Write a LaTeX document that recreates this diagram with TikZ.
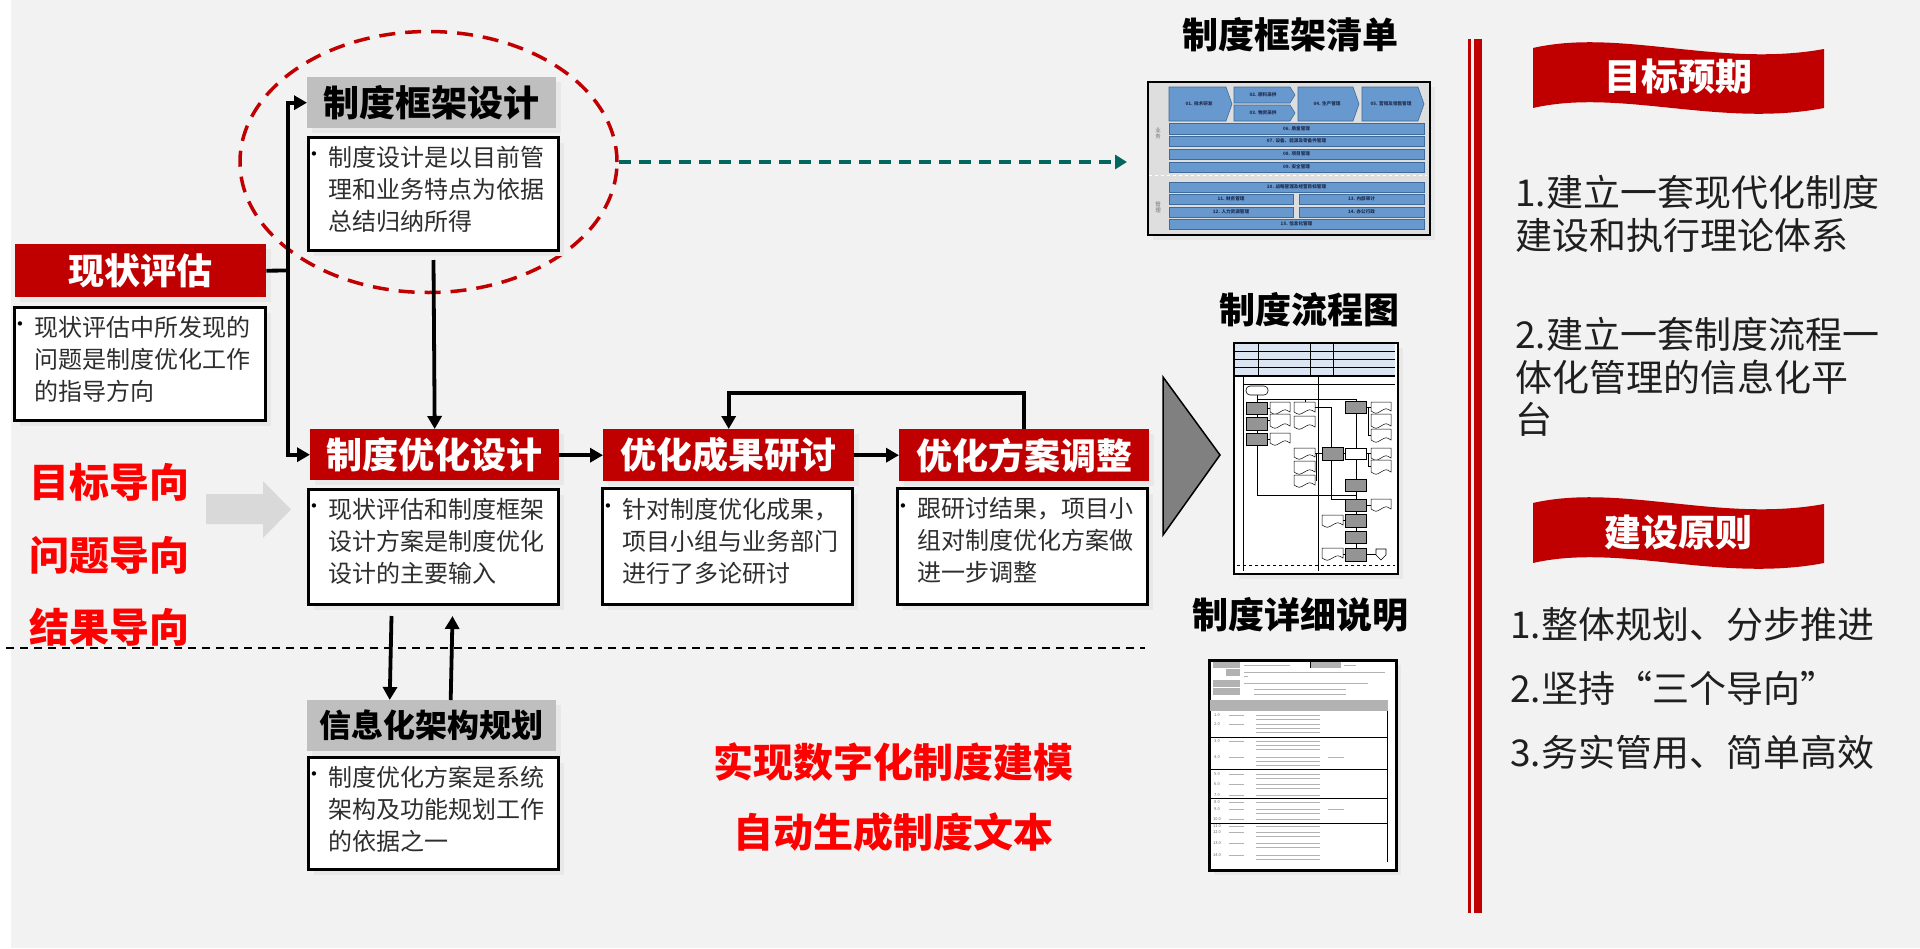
\documentclass[tikz,border=0pt]{standalone}
\usepackage{fontspec}
\setmainfont{Noto Sans CJK SC}
\newfontfamily\bulfont{DejaVu Sans}
\usetikzlibrary{arrows.meta,shapes.geometric,shadows}
\definecolor{hdred}{HTML}{C00000}
\definecolor{brred}{HTML}{FF0000}
\definecolor{bgc}{HTML}{F2F2F2}
\definecolor{hdgray}{HTML}{BFBFBF}
\definecolor{tealc}{HTML}{00665E}
\definecolor{bluebox}{HTML}{6798CE}
\definecolor{blueedge}{HTML}{3E6A9C}
\definecolor{navyc}{HTML}{1F2F50}
\definecolor{hdrblue}{HTML}{DCE6F2}
\definecolor{arrowgray}{HTML}{D9D9D9}
\definecolor{trigray}{HTML}{808080}
\newcommand{\fcdoc}[4]{\filldraw[fill=white,draw=black,line width=0.5pt] (#1,#2) -- (#3,#2) -- (#3,#4) .. controls +(-5,-3) and +(5,-3) .. ({(#1+#3)/2},#4) .. controls +(-5,3) and +(5,3) .. (#1,#4) -- cycle;}
\newcommand{\fcbox}[4]{\filldraw[fill=black!42,draw=black,line width=0.6pt] (#1,#2) rectangle (#3,#4);}
\tikzset{
 shad/.style={drop shadow={shadow xshift=5pt,shadow yshift=-5pt,fill=black!9,opacity=1}},
 redhead/.style={shad, fill=hdred, text=white, font=\bfseries\fontsize{36}{36}\selectfont, inner sep=0pt, anchor=north west},
 grayhead/.style={shad, fill=hdgray, text=black, font=\bfseries\fontsize{36}{36}\selectfont, inner sep=0pt, anchor=north west},
 descbox/.style={shad, draw=black, line width=3pt, fill=white, inner sep=0pt, anchor=north west},
 desctext/.style={font=\fontsize{24}{32}\selectfont, text=black!82, align=left, inner sep=0pt, anchor=north west},
 bul/.style={font=\bulfont\fontsize{15}{15}\selectfont, text=black, inner sep=0pt},
 conn/.style={draw=black, line width=3.8pt},
 arr/.style={-{Triangle[length=13pt,width=14pt]}},
 lefttext/.style={font=\bfseries\fontsize{40}{40}\selectfont, text=brred, inner sep=0pt},
 midred/.style={font=\bfseries\fontsize{40}{40}\selectfont, text=brred, inner sep=0pt},
 title/.style={font=\bfseries\fontsize{36}{36}\selectfont, text=black, inner sep=0pt},
 bantext/.style={font=\bfseries\fontsize{37}{37}\selectfont, text=white, inner sep=0pt},
 righttext/.style={font=\fontsize{37}{42.5}\selectfont, text=black!88, align=left, inner sep=0pt, anchor=north west},
 blueb/.style={fill=bluebox, draw=blueedge, line width=0.6pt},
 tinylab/.style={font=\bfseries\fontsize{4.6}{5}\selectfont, text=navyc, inner sep=0pt},
 sidelab/.style={font=\fontsize{5.5}{6}\selectfont, text=black!55, align=center, inner sep=0pt},
 thin/.style={draw=black, line width=0.6pt},
 bar/.style={draw=black!30, line width=1pt},
 docnum/.style={font=\fontsize{4}{4}\selectfont, text=black!60, inner sep=0pt},
}
\begin{document}
\begin{tikzpicture}[x=1pt,y=-1pt]
\useasboundingbox (0,0) rectangle (1920,948);
\fill[white] (0,0) rectangle (1920,948);
\fill[bgc] (11,0) rectangle (1920,948);

% dashed ellipse
\node[draw=hdred, line width=3.5pt, dash pattern=on 16pt off 10pt, ellipse, minimum width=377pt, minimum height=261pt, inner sep=0pt] (ell) at (428.5,162) {};

% boxes
\node[grayhead, minimum width=249pt, minimum height=51pt] (kj) at (307,77) {制度框架设计};
\node[descbox, minimum width=250pt, minimum height=113pt] (kjd) at (307,136) {};
\node[bul] (kjb) at (314,156) {•};
\node[desctext] (kjt) at (328.5,145.6) {制度设计是以目前管\\理和业务特点为依据\\总结归纳所得};

\node[redhead, minimum width=251pt, minimum height=53pt] (xz) at (15,244) {现状评估};
\node[descbox, minimum width=251pt, minimum height=113pt] (xzd) at (13,306) {};
\node[bul] (xzb) at (20,326) {•};
\node[desctext] (xzt) at (34.5,315.6) {现状评估中所发现的\\问题是制度优化工作\\的指导方向};

\node[redhead, minimum width=249pt, minimum height=51pt] (yh) at (310,429) {制度优化设计};
\node[descbox, minimum width=250pt, minimum height=115pt] (yhd) at (307,488) {};
\node[bul] (yhb) at (314,508) {•};
\node[desctext] (yht) at (328.5,497.6) {现状评估和制度框架\\设计方案是制度优化\\设计的主要输入};

\node[redhead, minimum width=251pt, minimum height=52pt] (cg) at (603,429) {优化成果研讨};
\node[descbox, minimum width=250pt, minimum height=116pt] (cgd) at (601,487) {};
\node[bul] (cgb) at (608,508) {•};
\node[desctext] (cgt) at (622.5,497.6) {针对制度优化成果，\\项目小组与业务部门\\进行了多论研讨};

\node[redhead, minimum width=250pt, minimum height=52pt] (fa) at (899,429) {优化方案调整};
\node[descbox, minimum width=250pt, minimum height=116pt] (fad) at (896,487) {};
\node[bul] (fab) at (903,508) {•};
\node[desctext] (fat) at (917.5,497.6) {跟研讨结果，项目小\\组对制度优化方案做\\进一步调整};

\node[grayhead, font=\bfseries\fontsize{32}{32}\selectfont, minimum width=249pt, minimum height=51pt] (xx) at (307,700) {信息化架构规划};
\node[descbox, minimum width=250pt, minimum height=112pt] (xxd) at (307,756) {};
\node[bul] (xxb) at (314,776) {•};
\node[desctext] (xxt) at (328.5,765.6) {制度优化方案是系统\\架构及功能规划工作\\的依据之一};

% left orientation texts and arrow
\node[lefttext] (g1) at (109.5,482) {目标导向};
\node[lefttext] (g2) at (109.5,555.5) {问题导向};
\node[lefttext] (g3) at (109.5,627) {结果导向};
\fill[arrowgray] (206,494) -- (263,494) -- (263,481) -- (291,509.5) -- (263,538) -- (263,524) -- (206,524) -- cycle;

% horizontal dashed separator
\draw[black, line width=1.6pt, dash pattern=on 8pt off 6pt] (6,648) -- (1145,648);

% center red texts
\node[midred] (m1) at (893,762) {实现数字化制度建模};
\node[midred] (m2) at (893,832) {自动生成制度文本};

% connectors
\coordinate (j) at (288,270.5);
\draw[conn] (xz.east) -- (j);
\draw[conn,arr] (j) |- (kj.west);
\draw[conn,arr] (j) |- (yh.west);
\draw[conn,arr] ([yshift=-8pt]kjd.south) -- (yh.north);
\draw[conn,arr] (yh.east |- cg.west) -- (cg.west);
\draw[conn,arr] (cg.east) -- (fa.west);
\draw[conn,arr] (fa.north) -- ++(0,-36) -| (cg.north);
\draw[conn,arr] ([xshift=-42pt,yshift=-10pt]yhd.south) -- ([xshift=-42pt]xx.north);
\draw[conn,arr] ([xshift=19pt]xx.north) -- ([xshift=19pt,yshift=-10pt]yhd.south);

% titles right-middle
\node[title] (t1) at (1290,35) {制度框架清单};
\node[title] (t2) at (1309,310) {制度流程图};
\node[title] (t3) at (1300,615) {制度详细说明};

% ---- framework list thumbnail
\node[shad, draw=black, line width=2pt, fill=black!13, minimum width=282pt, minimum height=153pt, inner sep=0pt, anchor=north west] (kjqd) at (1147,81) {};
\draw[tealc, line width=4pt, dash pattern=on 12pt off 8pt, -{Triangle[length=12pt,width=14pt]}] (ell.east) -- ([xshift=-20pt]ell.east -| kjqd.west);
\filldraw[blueb] (1169,87) -- (1226,87) -- (1232,104) -- (1226,121) -- (1169,121) -- cycle;
\node[tinylab] (l01) at (1199,104) {01. 技术研发};
\filldraw[blueb] (1234,87) -- (1290,87) -- (1295,95) -- (1290,103) -- (1234,103) -- cycle;
\node[tinylab] (l02) at (1263,95) {02. 原料采供};
\filldraw[blueb] (1234,105) -- (1290,105) -- (1295,113) -- (1290,121) -- (1234,121) -- cycle;
\node[tinylab] (l03) at (1263,113) {03. 物资采供};
\filldraw[blueb] (1298,87) -- (1353,87) -- (1359,104) -- (1353,121) -- (1298,121) -- cycle;
\node[tinylab] (l04) at (1327,104) {04. 生产管理};
\filldraw[blueb] (1362,87) -- (1418,87) -- (1424,104) -- (1418,121) -- (1362,121) -- cycle;
\node[tinylab] (l05) at (1391,104) {05. 营销及销售管理};
\filldraw[blueb] (1169,123) rectangle (1424,134);
\node[tinylab] (l06) at (1296.5,128.5) {06. 质量管理};
\filldraw[blueb] (1169,136) rectangle (1424,146);
\node[tinylab] (l07) at (1296.5,141) {07. 设备、能源及零备件管理};
\filldraw[blueb] (1169,149) rectangle (1424,159);
\node[tinylab] (l08) at (1296.5,154) {08. 项目管理};
\filldraw[blueb] (1169,162) rectangle (1424,172);
\node[tinylab] (l09) at (1296.5,167) {09. 安全管理};
\draw[white, dashed, line width=0.7pt] (1149,175.5) -- (1427,175.5);
\filldraw[blueb] (1169,182) rectangle (1424,192);
\node[tinylab] (l10) at (1296.5,187) {10. 战略管理及经营目标管理};
\filldraw[blueb] (1169,194) rectangle (1293,204);
\node[tinylab] (l11) at (1231,199) {11. 财务管理};
\filldraw[blueb] (1299,194) rectangle (1424,204);
\node[tinylab] (l13) at (1361.5,199) {13. 内部审计};
\filldraw[blueb] (1169,207) rectangle (1293,217);
\node[tinylab] (l12) at (1231,212) {12. 人力资源管理};
\filldraw[blueb] (1299,207) rectangle (1424,217);
\node[tinylab] (l14) at (1361.5,212) {14. 办公行政};
\filldraw[blueb] (1169,219) rectangle (1424,229);
\node[tinylab] (l15) at (1296.5,224) {15. 信息化管理};
\node[sidelab] (lyw) at (1158,133) {业\\务};
\node[sidelab] (lgl) at (1158,207) {管\\理};

% ---- flowchart thumbnail
\node[shad, draw=black, line width=2pt, fill=white, minimum width=164pt, minimum height=231pt, inner sep=0pt, anchor=north west] (lct) at (1233,342) {};
\fill[hdrblue] (1235,343) rectangle (1395,375);
\foreach \yy in {343,351,359,367,375} {\draw[line width=0.5pt] (1235,\yy) -- (1395,\yy);}
\foreach \xx in {1258,1310,1333} {\draw[line width=0.5pt] (\xx,343) -- (\xx,375);}
\draw[line width=0.8pt] (1235,376.5) -- (1395,376.5);
\draw[line width=0.8pt] (1243,376.5) -- (1243,571);
\draw[line width=0.8pt] (1318,376.5) -- (1318,571);
\draw[line width=0.8pt] (1243,384) -- (1395,384);
\draw[dashed, line width=0.6pt] (1237,565) -- (1395,565);
% flow lines
\draw[thin] (1257,395) -- (1257,495) -- (1356,495);
\draw[thin] (1257,399) -- (1356,399) -- (1356,548);
\draw[thin] (1305,399) -- (1305,402);
\draw[thin] (1315,407) -- (1331,407) -- (1331,499) -- (1345,499);
\draw[thin] (1267,408) -- (1270,408);
\draw[thin] (1267,420) -- (1270,420);
\draw[thin] (1267,439) -- (1270,439);
\draw[thin] (1315,453) -- (1322,453);
\draw[thin] (1316,453) -- (1316,481);
\draw[thin] (1343,453) -- (1345,453);
\draw[thin] (1366,407) -- (1371,407);
\draw[thin] (1368,407) -- (1368,435) -- (1371,435);
\draw[thin] (1366,453) -- (1371,453);
\draw[thin] (1368,453) -- (1368,466) -- (1371,466);
\draw[thin] (1366,505) -- (1371,505);
\draw[thin] (1343,520) -- (1345,520);
\draw[thin] (1343,554) -- (1345,554);
\draw[thin] (1366,554) -- (1376,554);
\draw[thin, rounded corners=4pt, fill=white] (1246,386) rectangle (1268,395);
\fcbox{1246}{402}{1267}{414}
\fcbox{1246}{417}{1267}{430}
\fcbox{1246}{433}{1267}{445}
\fcdoc{1270}{402}{1290}{412}
\fcdoc{1270}{414}{1290}{426}
\fcdoc{1270}{433}{1290}{443}
\fcdoc{1294}{402}{1315}{412}
\fcdoc{1294}{416}{1315}{427}
\fcdoc{1294}{448}{1315}{457}
\fcdoc{1294}{461}{1315}{472}
\fcdoc{1294}{475}{1315}{485}
\fcbox{1322}{447}{1343}{460}
\fcbox{1345}{401}{1366}{413}
\fcdoc{1371}{402}{1391}{411}
\fcdoc{1371}{414}{1391}{426}
\fcdoc{1371}{429}{1391}{440}
\draw[thin, fill=white] (1345,448) rectangle (1366,459);
\fcdoc{1371}{448}{1391}{458}
\fcdoc{1371}{460}{1391}{472}
\fcbox{1345}{479}{1366}{491}
\fcbox{1345}{499}{1366}{511}
\fcdoc{1371}{499}{1391}{509}
\fcdoc{1322}{515}{1343}{525}
\fcbox{1345}{514}{1366}{527}
\fcbox{1345}{531}{1366}{543}
\fcdoc{1322}{548}{1343}{558}
\fcbox{1345}{548}{1366}{561}
\draw[thin, fill=white] (1376,549) -- (1386,549) -- (1386,555) -- (1381,560) -- (1376,555) -- cycle;

% ---- detailed description thumbnail
\node[shad, draw=black, line width=2.5pt, fill=white, minimum width=187pt, minimum height=210pt, inner sep=0pt, anchor=north west] (xxsm) at (1208,659) {};
\fill[black!30] (1213,662) rectangle (1240,668);
\fill[black!30] (1226,669) rectangle (1240,676);
\fill[black!30] (1213,680) rectangle (1240,687);
\fill[black!30] (1213,688) rectangle (1240,695);
\fill[black!30] (1311,662) rectangle (1341,668);
\draw[line width=0.8pt] (1310,661) -- (1310,668);
\draw[bar] (1244,665) -- (1290,665);
\draw[bar] (1344,665) -- (1356,665);
\draw[bar] (1244,672) -- (1385,672);
\draw[bar] (1244,676) -- (1248,676);
\draw[bar] (1244,683) -- (1368,683);
\draw[bar] (1254,689) -- (1346,689);
\draw[bar] (1254,694) -- (1346,694);
\fill[black!30] (1210,700) rectangle (1388,711);
\foreach \yy/\num/\nl [count=\k] in {715/1.0/2, 724/2.0/3, 741/3.0/3, 757/4.0/3, 774/5.0/2, 784/6.0/2, 795/7.0/1, 802/8.0/1, 809/9.0/2, 819/10.0/1, 826/11.0/1, 832/12.0/2, 843/13.0/2, 855/14.0/2} {
  \node[docnum] (dn\k) at (1217,\yy) {\num};
  \draw[bar] (1229,\yy) -- (1244,\yy);
  \foreach \m in {1,...,\nl} {\draw[bar] (1256,{\yy+(\m-1)*4}) -- (1320,{\yy+(\m-1)*4});}
}
\draw[bar] (1328,757) -- (1344,757);
\draw[bar] (1328,809) -- (1344,809);
\foreach \yy in {737,769,798,823} {\draw[line width=1pt] (1210,\yy) -- (1388,\yy);}
\draw[line width=0.8pt] (1387,711) -- (1387,862);

% big gray triangle
\draw[fill=trigray, line width=1.5pt] (1163,377) -- (1220,455) -- (1163,535) -- cycle;

% red vertical double line
\fill[hdred] (1468,39) rectangle (1470.5,913);
\fill[hdred] (1474,39) rectangle (1482,913);

% banners
\fill[hdred] (1533,48) .. controls (1620,28) and (1720,68) .. (1824,49) -- (1824,108) .. controls (1720,128) and (1620,88) .. (1533,108) -- cycle;
\node[bantext] (b1) at (1678,77) {目标预期};
\fill[hdred] (1533,503) .. controls (1620,483) and (1720,523) .. (1824,504) -- (1824,563) .. controls (1720,583) and (1620,543) .. (1533,563) -- cycle;
\node[bantext] (b2) at (1678,532) {建设原则};

% right texts
\node[righttext] (r1) at (1515,175) {1.建立一套现代化制度\\建设和执行理论体系};
\node[righttext] (r2) at (1515,317) {2.建立一套制度流程一\\体化管理的信息化平\\台};
\node[righttext, font=\fontsize{37}{64}\selectfont] (r3) at (1510,607) {1.整体规划、分步推进\\2.坚持“三个导向”\\3.务实管用、简单高效};
\end{tikzpicture}
\end{document}
